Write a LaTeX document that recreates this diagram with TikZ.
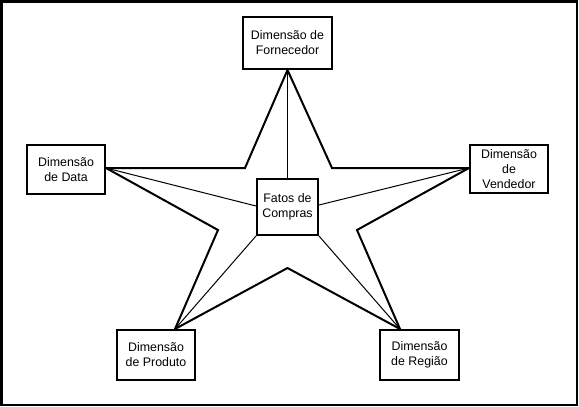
\documentclass[tikz,border=0pt]{standalone}
\usepackage{fontspec}
\setmainfont{Liberation Sans}
\usetikzlibrary{calc,backgrounds}
\begin{document}
\begin{tikzpicture}[x=0.75pt,y=-0.75pt,
  dimbox/.style={draw,line width=1.5pt,fill=white,inner sep=0pt,align=center,
    font=\fontsize{9.3pt}{11.2pt}\selectfont,minimum width=58.5pt,minimum height=37pt},
  starline/.style={line width=1.5pt,line join=miter},
  thinline/.style={line width=0.75pt}]
\useasboundingbox (0,0) rectangle (579,407);
\draw[line width=1.5pt] (1.5,1.5) rectangle (577,405);
% nodes
\node[dimbox,minimum width=66.75pt,minimum height=39pt] (forn) at (287.5,43) {Dimensão de\\Fornecedor};
\node[dimbox,minimum height=36.75pt] (data) at (66,169.5) {Dimensão\\de Data};
\node[dimbox,minimum width=45.75pt,minimum height=42pt] (fatos) at (287.5,207) {Fatos de\\Compras};
\node[dimbox,minimum height=36pt] (vend) at (509,169) {Dimensão\\de\\Vendedor};
\node[dimbox,minimum height=37.5pt] (prod) at (156,355) {Dimensão\\de Produto};
\node[dimbox,minimum width=59.25pt,minimum height=37.5pt] (reg) at (419.5,355) {Dimensão\\de Região};
% star points
\coordinate (pT) at (forn.south);
\coordinate (pL) at (data.east |- 0,168);
\coordinate (pR) at (vend.west |- 0,168);
\coordinate (pBL) at (175,329);
\coordinate (pBR) at (400,329);
\coordinate (iTL) at (245,168);
\coordinate (iTR) at (332,168);
\coordinate (iR) at (357,230);
\coordinate (iB) at (287.5,268);
\coordinate (iL) at (218,230);
\begin{scope}[on background layer]
\draw[starline] (pT) -- (iTR) -- (pR) -- (iR) -- (pBR) -- (iB) -- (pBL) -- (iL) -- (pL) -- (iTL) -- cycle;
\draw[thinline] (pT) -- (fatos.north);
\draw[thinline] (pL) -- (fatos.west |- 0,206);
\draw[thinline] (pR) -- (fatos.east |- 0,205);
\draw[thinline] (pBL) -- (fatos.south west);
\draw[thinline] (pBR) -- (fatos.south east);
\end{scope}
\end{tikzpicture}
\end{document}
